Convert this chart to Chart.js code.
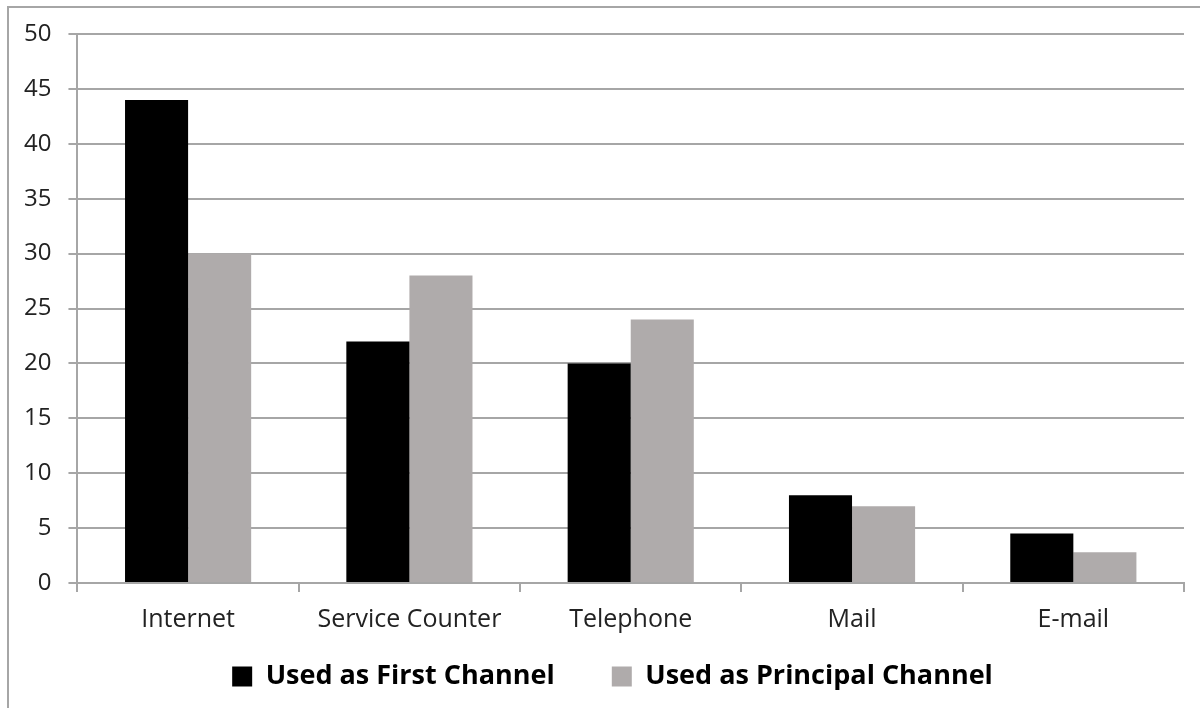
<!DOCTYPE html>
<html>
<head>
<meta charset="utf-8">
<script src="https://cdn.jsdelivr.net/npm/chart.js@4/dist/chart.umd.min.js"></script>
<style>
  html, body { margin: 0; padding: 0; background: #fff; }
  #wrap { position: relative; width: 1200px; height: 708px; overflow: hidden; }
  #frame { position: absolute; left: 7px; top: 6px; width: 1300px; height: 800px;
           border-left: 2px solid #a6a6a6; border-top: 2px solid #a6a6a6; }
  canvas { position: absolute; left: 0; top: 0; }
</style>
</head>
<body>
<div id="wrap">
  <div id="frame"></div>
  <canvas id="channel-chart" width="1200" height="708"></canvas>
</div>
<script>
const categories = ["Internet", "Service Counter", "Telephone", "Mail", "E-mail"];
const firstChannel = [44, 22, 20, 8, 4.5];
const principalChannel = [30, 28, 24, 7, 2.8];
const yTicks = [0, 5, 10, 15, 20, 25, 30, 35, 40, 45, 50];

const gridColor = "#a6a6a6";
const font = "'Open Sans', 'Liberation Sans', sans-serif";

// nudge the legend row a little to the right of the canvas centre
const legendShift = {
  id: "legendShift",
  afterLayout(c) {
    c.legend.left += 17;
    c.legend.right += 17;
  }
};

const ctx = document.getElementById("channel-chart").getContext("2d");

const chart = new Chart(ctx, {
  type: "bar",
  data: {
    labels: categories,
    datasets: [
      {
        label: "Used as First Channel",
        data: firstChannel,
        backgroundColor: "#000000",
        borderWidth: 0
      },
      {
        label: "Used as Principal Channel",
        data: principalChannel,
        backgroundColor: "#afabab",
        borderWidth: 0
      }
    ]
  },
  plugins: [legendShift],
  options: {
    responsive: false,
    animation: false,
    layout: { padding: { left: 7, right: 16, top: 34, bottom: 8 } },
    datasets: {
      bar: { categoryPercentage: 0.57, barPercentage: 1 }
    },
    scales: {
      x: {
        grid: {
          offset: true,
          drawOnChartArea: false,
          drawTicks: true,
          tickLength: 9,
          color: gridColor,
          lineWidth: 2
        },
        border: { color: gridColor, width: 2 },
        ticks: { color: "#222", font: { family: font, size: 25 }, padding: 13 }
      },
      y: {
        min: 0,
        max: 50,
        afterBuildTicks: axis => { axis.ticks = yTicks.map(v => ({ value: v })); },
        grid: { color: gridColor, lineWidth: 2, tickLength: 9 },
        border: { color: gridColor, width: 2 },
        ticks: { color: "#222", font: { family: font, size: 24 }, padding: 17 }
      }
    },
    plugins: {
      legend: {
        position: "bottom",
        labels: {
          boxWidth: 20,
          boxHeight: 20,
          padding: 15,
          color: "#000",
          font: { family: font, size: 27, weight: "bold" },
          // extra room after the first entry so the two items sit further apart
          generateLabels: c => {
            const items = Chart.defaults.plugins.legend.labels.generateLabels(c);
            items[0].text += "      ";
            return items;
          }
        }
      },
      tooltip: { enabled: false }
    }
  }
});
</script>
</body>
</html>
